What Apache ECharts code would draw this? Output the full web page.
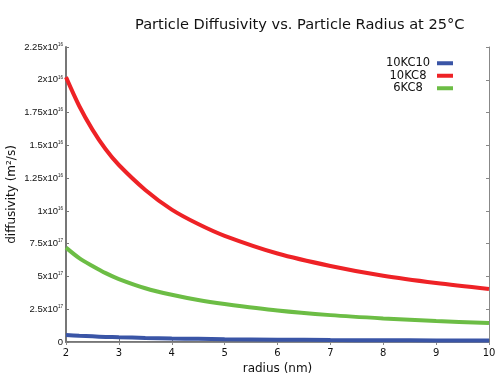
<!DOCTYPE html>
<html>
<head>
<meta charset="utf-8">
<script src="https://cdn.jsdelivr.net/npm/echarts@6/dist/echarts.min.js"></script>
<style>html,body{margin:0;padding:0;background:#fff}#c{width:500px;height:375px}</style>
</head>
<body>
<div id="c"></div>
<script>
// radius (nm)
const radius = [2, 2.25, 2.5, 2.75, 3, 3.5, 4, 4.5, 5, 6, 7, 8, 9, 10];
// diffusivity in units of 1e-16 m^2/s
const kc10_10 = [0.053, 0.047, 0.043, 0.039, 0.036, 0.031, 0.027, 0.024, 0.021, 0.018, 0.015, 0.013, 0.012, 0.011];
const kc8_10  = [2.02, 1.80, 1.62, 1.47, 1.35, 1.16, 1.01, 0.90, 0.81, 0.675, 0.58, 0.505, 0.45, 0.405];
const kc8_6   = [0.72, 0.64, 0.58, 0.525, 0.48, 0.41, 0.36, 0.32, 0.29, 0.24, 0.205, 0.18, 0.16, 0.145];
const seriesNames = ["10KC10", "10KC8", "6KC8"];
const xTickLabels = ["2","3","4","5","6","7","8","9","10"];
const yTickLabels = ["0","2.5x10^17","5x10^17","7.5x10^17","1x10^16","1.25x10^16","1.5x10^16","1.75x10^16","2x10^16","2.25x10^16"];

const colors = ["#3a55a6", "#ee2226", "#6cbd45"];
const font = "DejaVu Sans";
const tickFont = "Liberation Sans";
function pairs(ys){ return radius.map((r,i)=>[r, ys[i]]); }
const chart = echarts.init(document.getElementById('c'));
const allData = [kc10_10, kc8_10, kc8_6];
chart.setOption({
  animation: false,
  backgroundColor: '#fff',
  title: {
    text: 'Particle Diffusivity vs. Particle Radius at 25°C',
    left: 130, top: 13,
    textStyle: {fontFamily: font, fontSize: 14.6, fontWeight: 'normal', color: '#111'}
  },
  legend: {
    data: seriesNames,
    orient: 'vertical',
    right: 42, top: 52,
    align: 'right',
    itemGap: 0,
    itemWidth: 16, itemHeight: 4,
    icon: 'rect',
    formatter: '{c|{name}}',
    textStyle: {
      fontFamily: font, fontSize: 11.5, color: '#111', lineHeight: 12.5,
      rich: {c: {fontFamily: font, fontSize: 11.5, color: '#111', width: 48, align: 'center', lineHeight: 12.5}}
    }
  },
  grid: {left: 66, right: 11, top: 47, bottom: 33, containLabel: false, outerBoundsMode: 'none'},
  xAxis: [{
    type: 'value', min: 2, max: 10, interval: 1,
    name: 'radius (nm)', nameLocation: 'middle', nameGap: 20,
    nameTextStyle: {fontFamily: font, fontSize: 12, color: '#111'},
    axisLine: {lineStyle: {color: '#777', width: 2}},
    axisTick: {inside: true, length: 3, lineStyle: {color: '#777'}},
    axisLabel: {fontFamily: font, fontSize: 10, color: '#111', margin: 6,
      formatter: v => xTickLabels[Math.round(v - 2)] ?? ''},
    splitLine: {show: false}
  }, {
    type: 'value', min: 2, max: 10, interval: 1, position: 'top',
    axisLine: {show: true, lineStyle: {color: '#888', width: 1}},
    axisTick: {inside: true, length: 3, lineStyle: {color: '#888'}},
    axisLabel: {show: false}, splitLine: {show: false}
  }],
  yAxis: [{
    type: 'value', min: 0, max: 2.25, interval: 0.25,
    name: 'diffusivity (m²/s)', nameLocation: 'middle', nameGap: 48, nameMoveOverlap: false,
    nameTextStyle: {fontFamily: font, fontSize: 12, color: '#111'},
    axisLine: {show: true, lineStyle: {color: '#777', width: 2}},
    axisTick: {show: true, inside: true, length: 3, lineStyle: {color: '#777'}},
    axisLabel: {margin: 3, color: '#111',
      formatter: v => {
        const s = yTickLabels[Math.round(v / 0.25)] || '';
        const p = s.split('^');
        return p.length > 1 ? '{m|' + p[0] + '}{e|' + p[1] + '}' : '{m|' + p[0] + '}';
      },
      rich: {
        m: {fontFamily: tickFont, fontSize: 9.5, color: '#111'},
        e: {fontFamily: tickFont, fontSize: 4.5, color: '#111', verticalAlign: 'top', padding: [0, 0, 5, 0]}
      }
    },
    splitLine: {show: false}
  }, {
    type: 'value', min: 0, max: 2.25, interval: 0.25, position: 'right',
    axisLine: {show: true, lineStyle: {color: '#888', width: 1}},
    axisTick: {show: true, inside: true, length: 3, lineStyle: {color: '#888'}},
    axisLabel: {show: false}, splitLine: {show: false}
  }],
  series: seriesNames.map((n, i) => ({
    name: n, type: 'line', data: pairs(allData[i]), smooth: 0.3,
    showSymbol: false, symbol: 'none',
    lineStyle: {color: colors[i], width: 4},
    itemStyle: {color: colors[i]},
    z: i === 0 ? 4 : 3
  }))
});
</script>
</body>
</html>
